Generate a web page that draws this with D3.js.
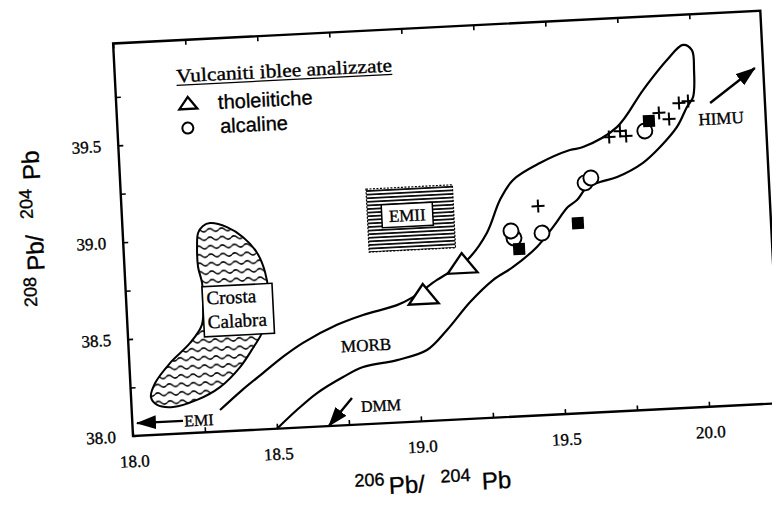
<!DOCTYPE html>
<html>
<head>
<meta charset="utf-8">
<script src="https://cdn.jsdelivr.net/npm/d3@7"></script>
<style>
  body { margin: 0; background: #fff; }
  svg { display: block; }
  text { stroke: #000; stroke-width: 0.35px; }
</style>
</head>
<body>
<div class="chart"></div>
<script>
// page + plot box
let FRAME_WIDTH = 772;
let FRAME_HEIGHT = 505;
let PLOT_W = 648;
let PLOT_H = 393;
let ORIGIN = {x: 133, y: 436};   // lower left corner of the box
let TILT = -2.9;                 // the scanned page is a bit crooked

const SERIF = "'Liberation Serif', 'Times New Roman', serif";
const SANS = "'Liberation Sans', Arial, sans-serif";

// ticks
const xTicks = [18.0, 18.25, 18.5, 18.75, 19.0, 19.25, 19.5, 19.75, 20.0];
const xTickLabels = ["18.0", "", "18.5", "", "19.0", "", "19.5", "", "20.0"];
const yTicks = [38.0, 38.25, 38.5, 38.75, 39.0, 39.25, 39.5, 39.75];
const yTickLabels = ["38.0", "", "38.5", "", "39.0", "", "39.5", ""];

// tholeiitic samples (triangles)
const tholX = [19.03, 19.17];
const tholY = [38.645, 38.794];

// alkaline samples (circles)
const alcX = [19.354, 19.345, 19.452, 19.610, 19.631, 19.826];
const alcY = [38.920, 38.957, 38.938, 39.185, 39.209, 39.437];

// other data (filled squares, crosses)
const sqX = [19.370, 19.578, 19.842];
const sqY = [38.862, 38.980, 39.487];
const crossX = [19.443, 19.701, 19.740, 19.760, 19.878, 19.912, 19.949, 19.981];
const crossY = [39.078, 39.415, 39.443, 39.416, 39.526, 39.492, 39.572, 39.580];

// MORB field outline (open, from the EMI end round the top down to the axis)
const morbX = [18.306, 18.386, 18.461, 18.533, 18.605, 18.726, 18.818, 18.937, 18.994,
  19.080, 19.188, 19.261, 19.312, 19.361, 19.457, 19.563, 19.609, 19.730, 19.827,
  19.915, 19.973, 20.003, 20.007, 19.999, 19.976, 19.938, 19.876, 19.814, 19.722,
  19.662, 19.616, 19.579, 19.546, 19.491, 19.432, 19.346, 19.274, 19.191, 19.106,
  19.033, 18.928, 18.809, 18.738, 18.645, 18.572, 18.500];
const morbY = [38.111, 38.208, 38.290, 38.368, 38.435, 38.519, 38.563, 38.605, 38.642,
  38.724, 38.819, 38.953, 39.119, 39.219, 39.299, 39.358, 39.370, 39.464, 39.648,
  39.796, 39.870, 39.841, 39.738, 39.599, 39.549, 39.449, 39.350, 39.273, 39.207,
  39.186, 39.163, 39.099, 39.065, 38.966, 38.868, 38.771, 38.709, 38.602, 38.464,
  38.366, 38.322, 38.295, 38.249, 38.173, 38.091, 38.000];

// Crosta Calabra field (closed)
const crostaX = [18.304, 18.362, 18.416, 18.462, 18.486, 18.493, 18.469, 18.431, 18.383,
  18.310, 18.228, 18.144, 18.089, 18.069, 18.086, 18.141, 18.214, 18.258, 18.266,
  18.266, 18.255, 18.255, 18.261, 18.279];
const crostaY = [39.076, 39.051, 38.995, 38.910, 38.810, 38.716, 38.512, 38.422, 38.327,
  38.229, 38.169, 38.139, 38.154, 38.196, 38.267, 38.366, 38.464, 38.554, 38.682,
  38.770, 38.853, 38.957, 39.028, 39.063];

// EMII box and its label box  [x0, x1, y0, y1]
const emiiBox = [18.85, 19.15, 38.885, 39.21];
const emiiLabelBox = [18.90, 19.077, 39.007, 39.125];
const crostaLabelBox = [18.265, 18.508, 38.492, 38.750];

// end-member arrows
const arrowNames = ["EMI", "DMM", "HIMU"];
const arrowX0 = [18.176, 18.765, 20.057];
const arrowY0 = [38.065, 38.139, 39.564];
const arrowX1 = [18.016, 18.680, 20.218];
const arrowY1 = [38.065, 38.000, 39.732];
const arrowLabelX = [18.231, 18.864, 20.092];
const arrowLabelY = [38.066, 38.095, 39.483];

const xScale = d3.scaleLinear().domain([18.0, 18.0 + PLOT_W / 288.4]).range([0, PLOT_W]);
const yScale = d3.scaleLinear().domain([38.0, 38.0 + PLOT_H / 194]).range([PLOT_H, 0]);

const svg = d3.select(".chart").append("svg")
  .attr("width", FRAME_WIDTH)
  .attr("height", FRAME_HEIGHT)
  .style("background", "#fff");

const defs = svg.append("defs");

// horizontal hatch for EMII
defs.append("pattern")
  .attr("id", "hlines")
  .attr("patternUnits", "userSpaceOnUse")
  .attr("width", 6).attr("height", 3.6)
  .append("line")
  .attr("x1", 0).attr("x2", 6).attr("y1", 1.8).attr("y2", 1.8)
  .attr("stroke", "#000").attr("stroke-width", 1.7);

// wavy hatch for Crosta Calabra
defs.append("pattern")
  .attr("id", "waves")
  .attr("patternUnits", "userSpaceOnUse")
  .attr("width", 12).attr("height", 8.5)
  .append("path")
  .attr("d", "M0,4.25 Q3,1.25 6,4.25 T12,4.25")
  .attr("fill", "none").attr("stroke", "#000").attr("stroke-width", 1.5);

defs.append("marker")
  .attr("id", "head")
  .attr("viewBox", "0 0 20 14")
  .attr("refX", 19).attr("refY", 7)
  .attr("markerWidth", 20).attr("markerHeight", 14)
  .attr("markerUnits", "userSpaceOnUse")
  .attr("orient", "auto")
  .append("path")
  .attr("d", "M0,0 L20,7 L0,14 Z")
  .attr("fill", "#000");

// everything sits in one tilted group, origin at the top left of the box
const plot = svg.append("g")
  .attr("transform", "translate(" + ORIGIN.x + "," + ORIGIN.y + ") rotate(" + TILT + ") translate(0," + (-PLOT_H) + ")");

// ---- axes
function styleAxis(g) {
  g.select(".domain").remove();
  g.selectAll(".tick line").attr("stroke", "#000").attr("stroke-width", 1.6);
  g.selectAll(".tick text").attr("fill", "#000");
  g.attr("font-family", SERIF).attr("font-size", 17);
}

plot.append("g")
  .attr("transform", "translate(0," + PLOT_H + ")")
  .call(d3.axisBottom(xScale).tickValues(xTicks)
    .tickFormat((d, i) => xTickLabels[i]).tickSize(-5).tickSizeOuter(0).tickPadding(19))
  .call(styleAxis);

plot.append("g")
  .call(d3.axisTop(xScale).tickValues(xTicks)
    .tickFormat("").tickSize(-5).tickSizeOuter(0))
  .call(styleAxis);

plot.append("g")
  .call(d3.axisLeft(yScale).tickValues(yTicks)
    .tickFormat((d, i) => yTickLabels[i]).tickSize(-5).tickSizeOuter(0).tickPadding(17))
  .call(styleAxis);

// box
plot.append("rect")
  .attr("x", 0).attr("y", 0)
  .attr("width", PLOT_W).attr("height", PLOT_H)
  .attr("fill", "none")
  .attr("stroke", "#000")
  .attr("stroke-width", 2.4);

// axis titles with mass numbers raised
function isoTitle(parent, parts) {
  let t = parent.append("text").attr("fill", "#000").attr("font-family", SANS);
  parts.forEach(function(p) {
    t.append("tspan")
      .attr("x", p.x)
      .attr("y", p.y)
      .attr("font-size", p.size)
      .text(p.txt);
  });
  return t;
}

isoTitle(plot, [
  {txt: "206", x: 219, y: PLOT_H + 62, size: 18},
  {txt: "Pb/", x: 253, y: PLOT_H + 71, size: 24},
  {txt: "204", x: 305, y: PLOT_H + 62, size: 18},
  {txt: "Pb", x: 346, y: PLOT_H + 71, size: 24}
]);

let yTitle = plot.append("g")
  .attr("transform", "translate(-80," + (PLOT_H - 134) + ") rotate(-90)");
isoTitle(yTitle, [
  {txt: "208", x: 0, y: -9, size: 18},
  {txt: "Pb/", x: 36, y: 0, size: 24},
  {txt: "204", x: 88, y: -9, size: 18},
  {txt: "Pb", x: 127, y: 0, size: 24}
]);

// ---- fields
const crostaPts = crostaX.map((d, i) => [xScale(d), yScale(crostaY[i])]);
plot.append("path")
  .attr("d", d3.line().curve(d3.curveCatmullRomClosed.alpha(0.5))(crostaPts))
  .attr("fill", "url(#waves)")
  .attr("stroke", "#000")
  .attr("stroke-width", 2);

const morbPts = morbX.map((d, i) => [xScale(d), yScale(morbY[i])]);
plot.append("path")
  .attr("d", d3.line().curve(d3.curveCatmullRom.alpha(0.5))(morbPts))
  .attr("fill", "none")
  .attr("stroke", "#000")
  .attr("stroke-width", 2.2);

function boxRect(b) {
  return plot.append("rect")
    .attr("x", xScale(b[0]))
    .attr("y", yScale(b[3]))
    .attr("width", xScale(b[1]) - xScale(b[0]))
    .attr("height", yScale(b[2]) - yScale(b[3]));
}

boxRect(emiiBox).attr("fill", "url(#hlines)").attr("stroke", "#000")
  .attr("stroke-width", 1.2).attr("stroke-dasharray", "2,1.5");
boxRect(emiiLabelBox).attr("fill", "#fff").attr("stroke", "#000").attr("stroke-width", 1.5);
plot.append("text")
  .attr("x", xScale((emiiLabelBox[0] + emiiLabelBox[1]) / 2))
  .attr("y", yScale((emiiLabelBox[2] + emiiLabelBox[3]) / 2) + 6)
  .attr("text-anchor", "middle")
  .attr("font-family", SERIF).attr("font-size", 17)
  .text("EMII");

boxRect(crostaLabelBox).attr("fill", "#fff").attr("stroke", "#000").attr("stroke-width", 1.6);
plot.append("text")
  .attr("x", xScale(crostaLabelBox[0]) + 4)
  .attr("y", yScale((crostaLabelBox[2] + crostaLabelBox[3]) / 2) - 7)
  .attr("font-family", SERIF).attr("font-size", 19)
  .text("Crosta");
plot.append("text")
  .attr("x", xScale(crostaLabelBox[0]) + 4)
  .attr("y", yScale((crostaLabelBox[2] + crostaLabelBox[3]) / 2) + 17)
  .attr("font-family", SERIF).attr("font-size", 19)
  .text("Calabra");

plot.append("text")
  .attr("x", xScale(18.823))
  .attr("y", yScale(38.408) + 6)
  .attr("text-anchor", "middle")
  .attr("font-family", SERIF).attr("font-size", 17)
  .text("MORB");

// ---- end-member arrows
arrowNames.forEach(function(name, i) {
  plot.append("line")
    .attr("x1", xScale(arrowX0[i])).attr("y1", yScale(arrowY0[i]))
    .attr("x2", xScale(arrowX1[i])).attr("y2", yScale(arrowY1[i]))
    .attr("stroke", "#000").attr("stroke-width", 2.4)
    .attr("marker-end", "url(#head)");
  plot.append("text")
    .attr("x", xScale(arrowLabelX[i]))
    .attr("y", yScale(arrowLabelY[i]) + 6)
    .attr("text-anchor", "middle")
    .attr("font-family", SERIF).attr("font-size", name == "HIMU" ? 17 : 16)
    .text(name);
});

// ---- samples
const triPath = "M0,-12 L15,8 L-15,8 Z";

plot.selectAll(".alc")
  .data(alcX)
  .enter().append("circle")
  .attr("class", "alc")
  .attr("cx", d => xScale(d))
  .attr("cy", (d, i) => yScale(alcY[i]))
  .attr("r", 7.5)
  .attr("fill", "#fff").attr("stroke", "#000").attr("stroke-width", 1.9);

plot.selectAll(".thol")
  .data(tholX)
  .enter().append("path")
  .attr("class", "thol")
  .attr("d", triPath)
  .attr("transform", (d, i) => "translate(" + xScale(d) + "," + yScale(tholY[i]) + ")")
  .attr("fill", "#fff").attr("stroke", "#000").attr("stroke-width", 2.3);

plot.selectAll(".sq")
  .data(sqX)
  .enter().append("rect")
  .attr("class", "sq")
  .attr("x", d => xScale(d) - 6)
  .attr("y", (d, i) => yScale(sqY[i]) - 6)
  .attr("width", 12).attr("height", 12)
  .attr("fill", "#000");

plot.selectAll(".cross")
  .data(crossX)
  .enter().append("path")
  .attr("class", "cross")
  .attr("d", "M-6.5,0 H6.5 M0,-6.5 V6.5")
  .attr("transform", (d, i) => "translate(" + xScale(d) + "," + yScale(crossY[i]) + ")")
  .attr("stroke", "#000").attr("stroke-width", 2);

// ---- legend
plot.append("text")
  .attr("x", xScale(18.587))
  .attr("y", yScale(39.84) + 6)
  .attr("text-anchor", "middle")
  .attr("font-family", SERIF).attr("font-size", 19)
  .attr("textLength", 216)
  .attr("lengthAdjust", "spacingAndGlyphs")
  .text("Vulcaniti iblee analizzate");
plot.append("line")
  .attr("x1", xScale(18.587) - 108).attr("x2", xScale(18.587) + 108)
  .attr("y1", yScale(39.84) + 9).attr("y2", yScale(39.84) + 9)
  .attr("stroke", "#000").attr("stroke-width", 1.3);

plot.append("path")
  .attr("d", "M0,-7 L9,5 L-9,5 Z")
  .attr("transform", "translate(" + xScale(18.249) + "," + yScale(39.695) + ")")
  .attr("fill", "#fff").attr("stroke", "#000").attr("stroke-width", 2.3);
plot.append("text")
  .attr("x", xScale(18.353)).attr("y", yScale(39.697) + 7)
  .attr("font-family", SANS).attr("font-size", 20)
  .text("tholeiitiche");

plot.append("circle")
  .attr("cx", xScale(18.244)).attr("cy", yScale(39.571))
  .attr("r", 5.5)
  .attr("fill", "#fff").attr("stroke", "#000").attr("stroke-width", 2);
plot.append("text")
  .attr("x", xScale(18.356)).attr("y", yScale(39.573) + 7)
  .attr("font-family", SANS).attr("font-size", 20)
  .text("alcaline");
</script>
</body>
</html>
